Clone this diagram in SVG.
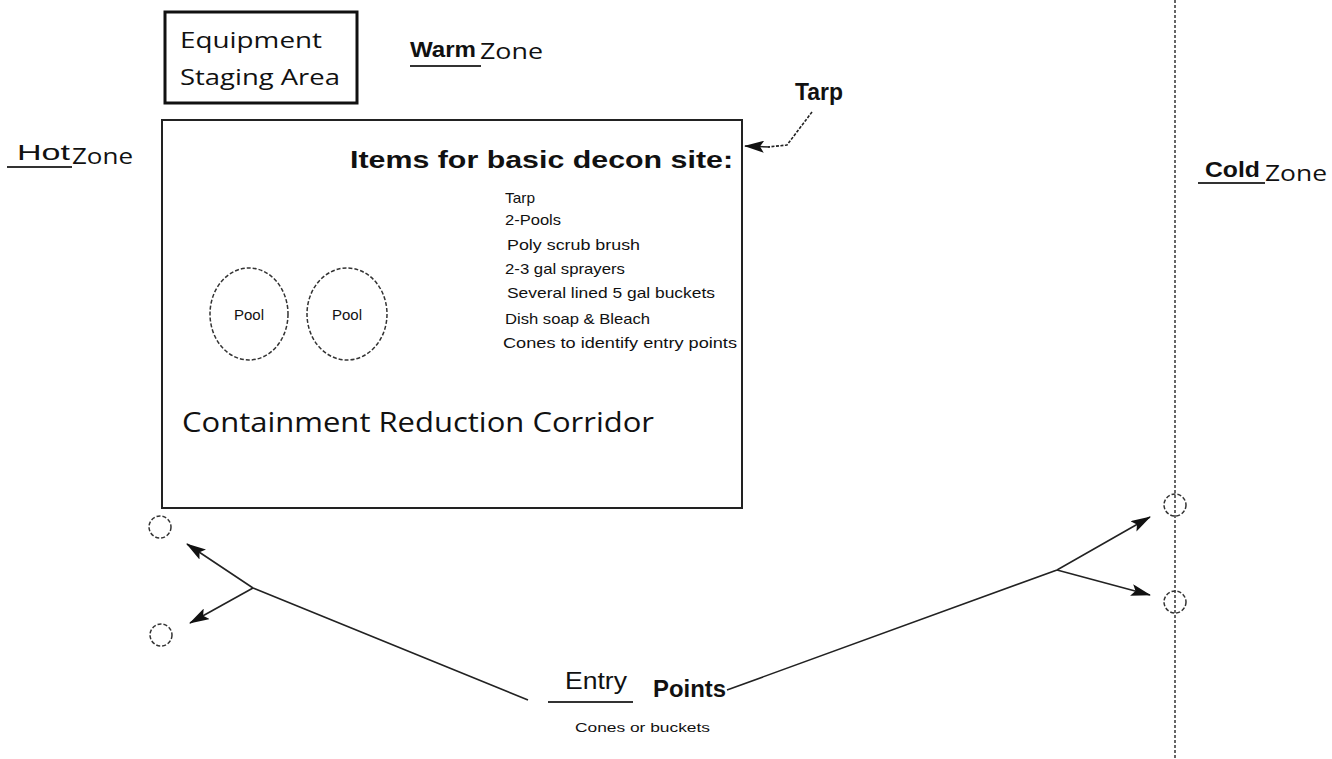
<svg xmlns="http://www.w3.org/2000/svg" width="1332" height="759" viewBox="0 0 1332 759">
<style>
.sans{font-family:"Open Sans","Liberation Sans",sans-serif;fill:#111}
.arial{font-family:"Liberation Sans",Arial,sans-serif;fill:#111}
.b{font-weight:bold}
.ul{stroke:#333;stroke-width:2}
.con{fill:none;stroke:#222;stroke-width:1.6}
.dash{fill:none;stroke:#333;stroke-width:1.5;stroke-dasharray:4 2}
</style>
<defs>
<marker id="ah" viewBox="0 0 20 12" refX="19" refY="6" markerWidth="20" markerHeight="12" markerUnits="userSpaceOnUse" orient="auto">
<path d="M0,0 L20,6 L0,12 L4,6 Z" fill="#111"/>
</marker>
</defs>
<rect width="1332" height="759" fill="#fff"/>

<g id="staging">
<rect x="165" y="12" width="192" height="91" fill="none" stroke="#111" stroke-width="3"/>
<text class="sans" x="180" y="48" font-size="22" textLength="142" lengthAdjust="spacingAndGlyphs">Equipment</text>
<text class="sans" x="180" y="85" font-size="22" textLength="160" lengthAdjust="spacingAndGlyphs">Staging Area</text>
</g>

<g id="warm-zone">
<text class="arial b" x="410" y="57" font-size="22" textLength="66" lengthAdjust="spacingAndGlyphs">Warm</text>
<text class="sans" x="480" y="59" font-size="22" textLength="63" lengthAdjust="spacingAndGlyphs">Zone</text>
<line class="ul" x1="410" y1="66" x2="481" y2="66"/>
</g>

<g id="hot-zone">
<text class="arial" x="17" y="160" font-size="22" textLength="53" lengthAdjust="spacingAndGlyphs">Hot</text>
<text class="sans" x="72" y="164" font-size="22" textLength="61" lengthAdjust="spacingAndGlyphs">Zone</text>
<line class="ul" x1="7" y1="167" x2="72" y2="167"/>
</g>

<g id="cold-zone">
<text class="arial b" x="1205" y="177" font-size="22" textLength="55" lengthAdjust="spacingAndGlyphs">Cold</text>
<text class="sans" x="1265" y="181" font-size="22" textLength="62" lengthAdjust="spacingAndGlyphs">Zone</text>
<line class="ul" x1="1198" y1="183" x2="1265" y2="183"/>
</g>

<g id="boundary">
<line x1="1175" y1="0" x2="1175" y2="759" stroke="#333" stroke-width="1.5" stroke-dasharray="3 2"/>
</g>

<g id="corridor">
<rect x="162" y="120" width="580" height="388" fill="none" stroke="#222" stroke-width="2"/>
<text class="arial b" x="350" y="168" font-size="24" textLength="383" lengthAdjust="spacingAndGlyphs">Items for basic decon site:</text>
<text class="arial" x="505" y="203" font-size="15" textLength="30" lengthAdjust="spacingAndGlyphs">Tarp</text>
<text class="arial" x="505" y="225" font-size="15" textLength="56" lengthAdjust="spacingAndGlyphs">2-Pools</text>
<text class="arial" x="507" y="250" font-size="15" textLength="133" lengthAdjust="spacingAndGlyphs">Poly scrub brush</text>
<text class="arial" x="505" y="274" font-size="15" textLength="120" lengthAdjust="spacingAndGlyphs">2-3 gal sprayers</text>
<text class="arial" x="507" y="298" font-size="15" textLength="208" lengthAdjust="spacingAndGlyphs">Several  lined 5 gal buckets</text>
<text class="arial" x="505" y="324" font-size="15" textLength="145" lengthAdjust="spacingAndGlyphs">Dish soap &amp; Bleach</text>
<text class="arial" x="503" y="348" font-size="15" textLength="234" lengthAdjust="spacingAndGlyphs">Cones to identify entry points</text>
<text class="sans" x="182" y="432" font-size="28" textLength="472" lengthAdjust="spacingAndGlyphs">Containment Reduction Corridor</text>
</g>

<g id="pool1">
<ellipse class="dash" cx="249" cy="314" rx="39" ry="46"/>
<text class="arial" x="249" y="320" font-size="15" text-anchor="middle">Pool</text>
</g>
<g id="pool2">
<ellipse class="dash" cx="347" cy="314" rx="40" ry="46"/>
<text class="arial" x="347" y="320" font-size="15" text-anchor="middle">Pool</text>
</g>

<g id="tarp">
<text class="arial b" x="795" y="100" font-size="24" textLength="48" lengthAdjust="spacingAndGlyphs">Tarp</text>
</g>

<g id="entry-left-1"><circle class="dash" cx="160" cy="527" r="11"/></g>
<g id="entry-left-2"><circle class="dash" cx="161" cy="635" r="11"/></g>
<g id="entry-right-1"><circle class="dash" cx="1175" cy="505" r="11"/></g>
<g id="entry-right-2"><circle class="dash" cx="1175" cy="602" r="11"/></g>

<g id="entry-points">
<text class="arial" x="565" y="689" font-size="23" textLength="62" lengthAdjust="spacingAndGlyphs">Entry</text>
<line class="ul" x1="548" y1="702" x2="633" y2="702"/>
<text class="arial b" x="653" y="697" font-size="23" textLength="73" lengthAdjust="spacingAndGlyphs">Points</text>
<text class="arial" x="575" y="732" font-size="13" textLength="135" lengthAdjust="spacingAndGlyphs">Cones or buckets</text>
</g>

<g id="connectors">
<polyline class="con" points="812,112 787,145 768,147" stroke-dasharray="3 1.5"/>
<line class="con" x1="770" y1="147" x2="745" y2="146" marker-end="url(#ah)"/>
<polyline class="con" points="528,700 253,588 187,544" marker-end="url(#ah)"/>
<line class="con" x1="253" y1="588" x2="190" y2="623" marker-end="url(#ah)"/>
<polyline class="con" points="727,690 1057,570 1150,517" marker-end="url(#ah)"/>
<line class="con" x1="1057" y1="570" x2="1150" y2="595" marker-end="url(#ah)"/>
</g>
</svg>
